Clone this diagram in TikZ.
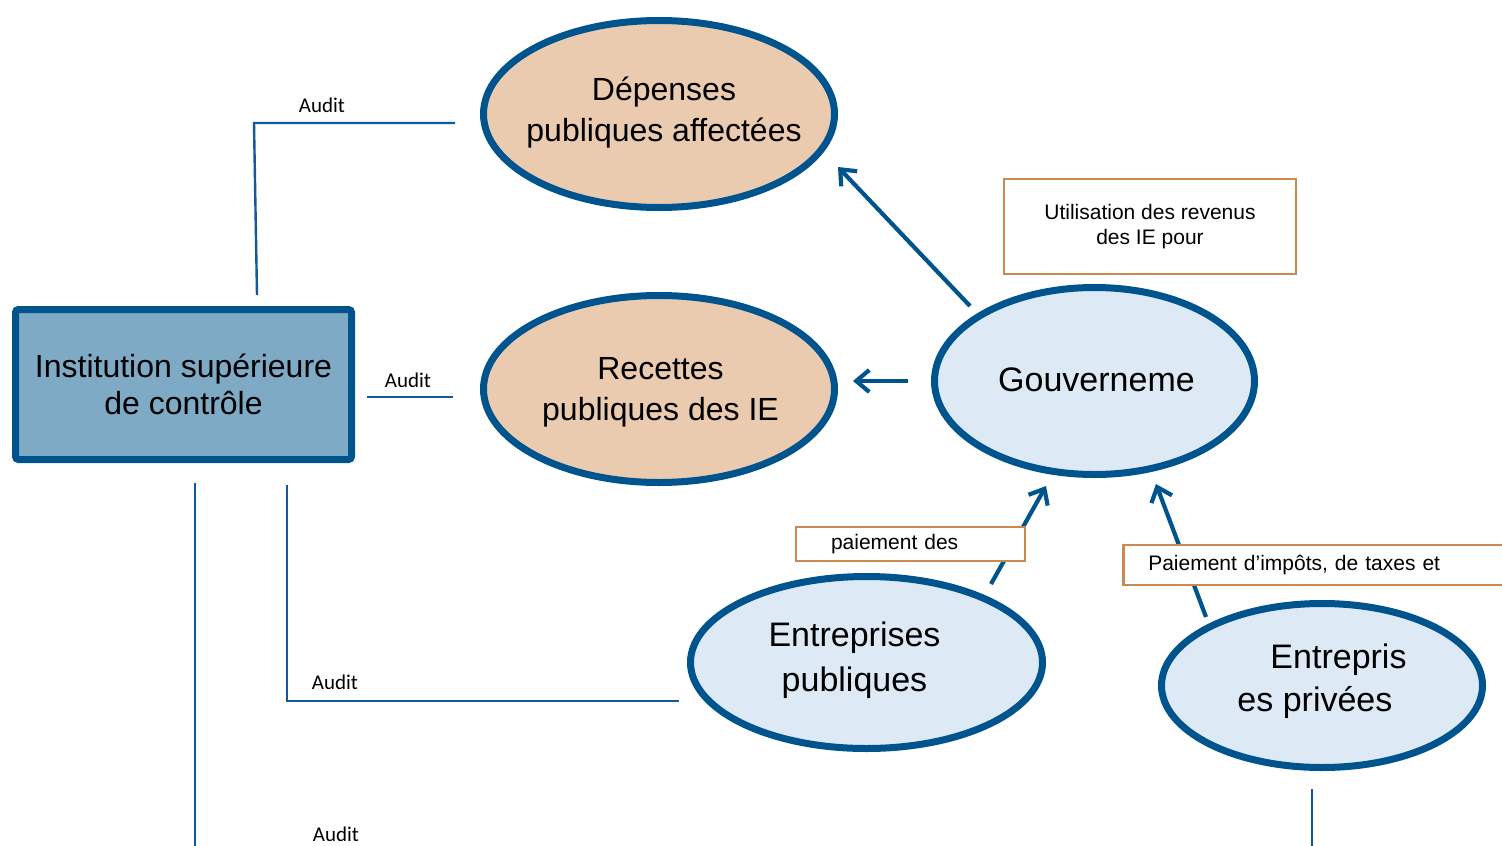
\documentclass[tikz,border=0pt]{standalone}
\usepackage{fontspec}
\setmainfont{Liberation Sans}
\newfontfamily\auditfont{Carlito}
\usetikzlibrary{shapes.geometric,arrows.meta,calc}
\definecolor{navy}{HTML}{00548E}
\definecolor{iscfill}{HTML}{7FAAC6}
\definecolor{tanfill}{HTML}{EACBAF}
\definecolor{paleblue}{HTML}{DDEAF6}
\definecolor{copper}{HTML}{C98A4F}
\definecolor{auditline}{HTML}{12599A}

\begin{document}
\begin{tikzpicture}[x=1pt,y=-1pt,
  oval/.style={ellipse, draw=navy, line width=7pt, inner sep=0pt},
  tanoval/.style={oval, fill=tanfill},
  blueoval/.style={oval, fill=paleblue},
  bigtext/.style={align=center, inner sep=0pt},
  notebox/.style={draw=copper, line width=2.5pt, fill=white, inner sep=0pt,
    font=\fontsize{21}{25}\selectfont},
  flow/.style={draw=navy, line width=4.2pt, -{Straight Barb[length=13pt,width=22pt]}},
  audit/.style={draw=auditline, line width=2.4pt},
  auditlbl/.style={font=\auditfont\fontsize{21}{24}\selectfont, inner sep=0pt},
]
\useasboundingbox (0,0) rectangle (1502,846);
\clip (0,0) rectangle (1502,846);

% audit body
\node[draw=navy, fill=iscfill, line width=7pt, rounded corners=3pt,
  minimum width=336pt, minimum height=150pt, inner sep=0pt, align=center,
  font=\fontsize{32}{37}\selectfont] (isc) at (183.5,384.5)
  {Institution supérieure\\de contrôle};

% ellipses
\node[tanoval, minimum width=351pt, minimum height=187pt] (dep) at (659,114) {};
\node[tanoval, minimum width=351pt, minimum height=187pt] (rec) at (659,389) {};
\node[blueoval, minimum width=320pt, minimum height=187pt] (gov) at (1094.5,381) {};
\node[blueoval, minimum width=352pt, minimum height=172pt] (entpub) at (866.5,662.5) {};
\node[blueoval, minimum width=321pt, minimum height=164pt] (entpriv) at (1322,685.5) {};

% ellipse texts
\node[bigtext, font=\fontsize{32}{41}\selectfont] (deptext)
  at ([shift={(5,-1)}]dep.center) {Dépenses\\publiques affectées};
\node[bigtext, font=\fontsize{32}{41}\selectfont] (rectext)
  at ([shift={(1.5,3)}]rec.center) {Recettes\\publiques des IE};
\node[bigtext, font=\fontsize{34}{40}\selectfont] (govtext)
  at ([shift={(2,-1.5)}]gov.center) {Gouverneme};
\node[bigtext, font=\fontsize{34}{45}\selectfont] (entpubtext)
  at ([shift={(-12,-2)}]entpub.center) {Entreprises\\publiques};
\node[inner sep=0pt, align=left, font=\fontsize{34}{43}\selectfont] (entprivtext)
  at ([shift={(0,-4)}]entpriv.center) {\hspace*{33pt}Entrepris\\es privées};

% flows of money
\draw[flow] ([shift={(-124.5,-75)}]gov.center) -- ([shift={(179,53)}]dep.center);
\draw[flow] ([shift={(-186.5,0)}]gov.center) -- ([shift={(194,-8)}]rec.center);
\draw[flow] ([shift={(124.5,-78.5)}]entpub.center) -- ([shift={(-48.5,105)}]gov.center);
\draw[flow] ([shift={(-116,-68.5)}]entpriv.center) -- ([shift={(61.5,103)}]gov.center);

% captions of the flows
\node[notebox, minimum width=292pt, minimum height=95pt, align=center] (usebox)
  at (1150,226.5) {Utilisation des revenus\\des IE pour\rule[-4pt]{0pt}{0pt}};
\node[notebox, text width=159pt, inner xsep=35pt, align=left, minimum height=34pt] (pubpay)
  at (910.5,544) {\rule{0pt}{12pt}paiement des};
\node[notebox, text width=360pt, inner xsep=25pt, align=left, minimum height=40pt,
  anchor=west] (privpay) at (1122,565) {\rule{0pt}{12pt}Paiement d’impôts, de taxes et};

% audit links
\coordinate (bend) at (254,123);
\draw[audit] ([shift={(73.5,-89.5)}]isc.center) -- (bend) -- ([shift={(-204,9)}]dep.center);
\draw[audit] ([shift={(183.5,12.5)}]isc.center) -- ([shift={(-206,8)}]rec.center);
\draw[audit] ([shift={(103.5,100.5)}]isc.center) |- ([shift={(-187.5,38.5)}]entpub.center);
\coordinate (iscdown) at (195,850);
\draw[audit] ([shift={(11.5,98.5)}]isc.center) -- (iscdown);
\coordinate (privdown) at (1312,850);
\draw[audit] ([shift={(-10,103.5)}]entpriv.center) -- (privdown);

\node[auditlbl] (audit1) at (322,105) {Audit};
\node[auditlbl] (audit2) at (408,380) {Audit};
\node[auditlbl] (audit3) at (335,682) {Audit};
\node[auditlbl] (audit4) at (336,834) {Audit};
\end{tikzpicture}
\end{document}
